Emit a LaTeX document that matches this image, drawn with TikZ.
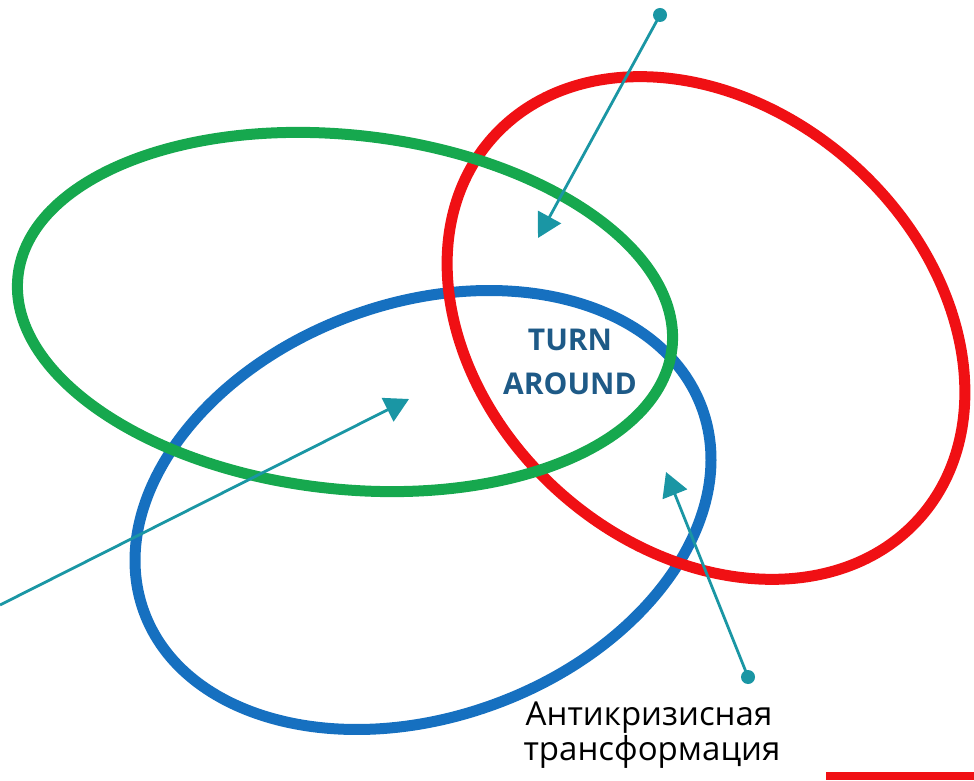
\documentclass[tikz,border=0pt]{standalone}
\usepackage{fontspec}
\setmainfont{Open Sans}
\usetikzlibrary{arrows.meta}
\definecolor{cgreen}{RGB}{22,168,78}
\definecolor{cred}{RGB}{240,16,20}
\definecolor{cblue}{RGB}{22,112,192}
\definecolor{cteal}{RGB}{26,150,164}
\definecolor{ctext}{RGB}{30,90,135}
\tikzset{
  ring/.style={line width=11pt},
  pointer/.style={draw=cteal, line width=2.8pt, -{Triangle[length=24pt,width=26pt]}},
  dot/.style={circle, fill=cteal, inner sep=0pt, minimum size=14pt},
}
\begin{document}
\begin{tikzpicture}[x=1pt,y=1pt]
\useasboundingbox (0,0) rectangle (974,780);
\draw[ring, cblue] (423,270) ellipse [x radius=297, y radius=207, rotate=20];
\draw[ring, cred] (706,452) ellipse [x radius=286, y radius=220, rotate=-41.7];
\draw[ring, cgreen] (345,468) ellipse [x radius=329, y radius=177, rotate=-6.3];
\node[dot] (d1) at (660,765) {};
\node[dot] (d3) at (748,103) {};
\coordinate (s2) at (0,175);
\coordinate (t1) at (538,542);
\coordinate (t2) at (409,381);
\coordinate (t3) at (666,308);
\draw[pointer] (d1.center) -- (t1);
\draw[pointer] (s2) -- (t2);
\draw[pointer] (d3.center) -- (t3);
\node[font=\fontsize{30}{44}\selectfont\bfseries, text=ctext, align=center] (ta) at (570,418) {TURN\\AROUND};
\node[font=\fontsize{33}{35}\selectfont, anchor=base] (r1) at (649,55) {Антикризисная};
\node[font=\fontsize{33}{35}\selectfont, anchor=base] (r2) at (652,20) {трансформация};
\fill[cred] (826,0) rectangle (974,8);
\end{tikzpicture}
\end{document}
